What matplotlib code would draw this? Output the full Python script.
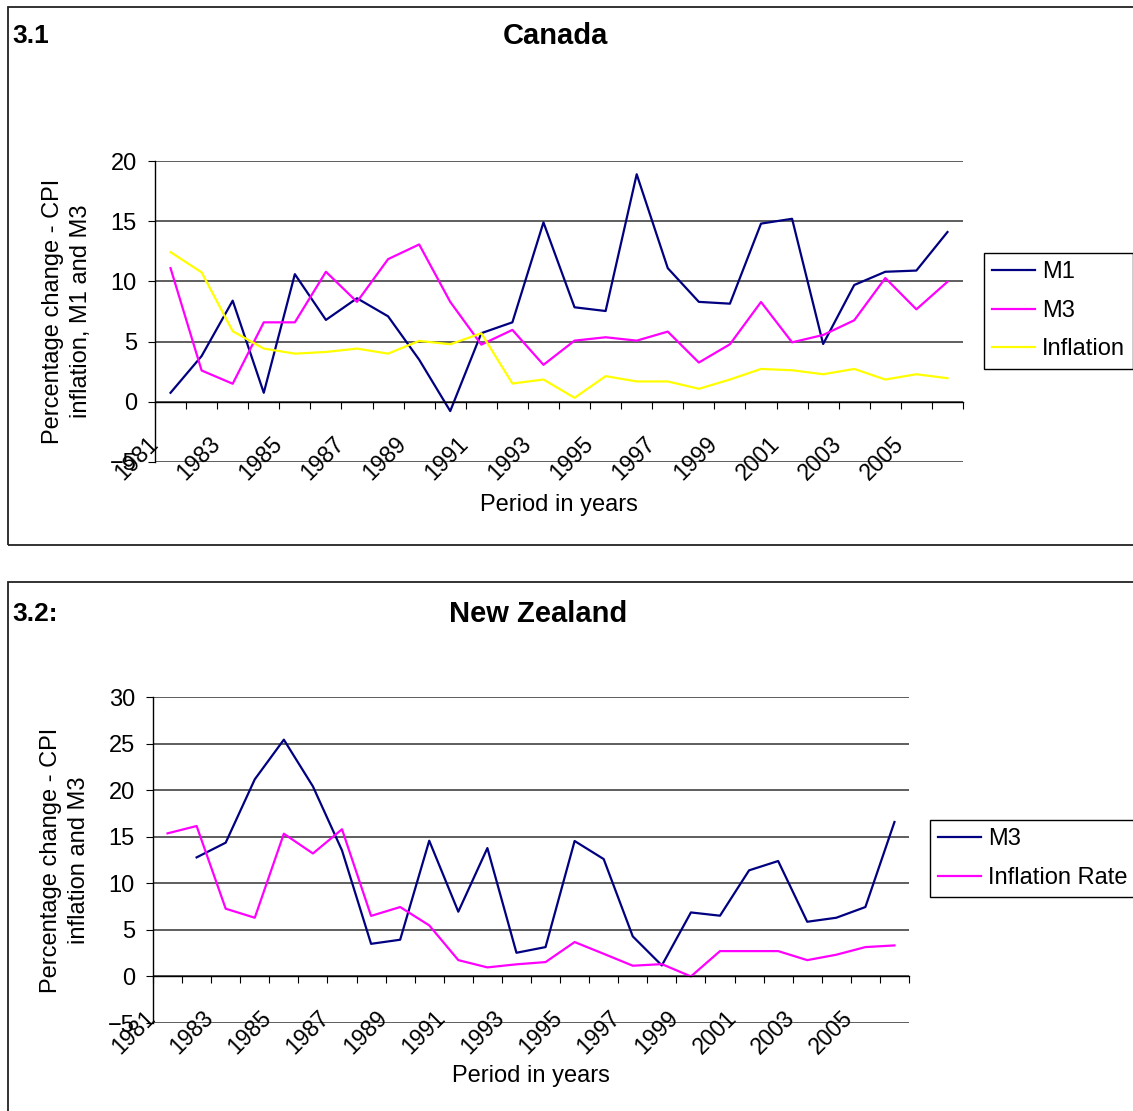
import numpy as np
import matplotlib
matplotlib.use("Agg")
import matplotlib.pyplot as plt
from matplotlib.patches import Rectangle
from matplotlib.transforms import ScaledTranslation

plt.rcParams["font.family"] = ["Liberation Sans", "DejaVu Sans"]

# %%
# data
years = list(range(1981, 2007))

# 3.1 Canada
ca_m1 = [0.75, 3.8, 8.4, 0.75, 10.6, 6.8, 8.6, 7.1, 3.5, -0.77, 5.7, 6.6, 14.9,
         7.85, 7.54, 18.9, 11.1, 8.3, 8.15, 14.8, 15.2, 4.8, 9.7, 10.8, 10.9, 14.1]
ca_m3 = [11.1, 2.6, 1.5, 6.6, 6.6, 10.8, 8.3, 11.85, 13.07, 8.3, 4.75, 5.97, 3.07,
         5.08, 5.36, 5.08, 5.83, 3.26, 4.78, 8.29, 4.94, 5.55, 6.77, 10.28, 7.68, 9.97]
ca_infl = [12.43, 10.75, 5.86, 4.42, 4.0, 4.14, 4.42, 4.0, 5.06, 4.78, 5.69, 1.52, 1.85,
           0.33, 2.13, 1.69, 1.69, 1.08, 1.85, 2.73, 2.62, 2.29, 2.73, 1.85, 2.29, 1.96]

# 3.2 New Zealand (no M3 figure for 1981)
nz_m3 = [np.nan, 12.78, 14.36, 21.16, 25.42, 20.4, 13.53, 3.5, 3.94, 14.57, 6.95, 13.78,
         2.54, 3.15, 14.54, 12.6, 4.3, 1.18, 6.87, 6.52, 11.39, 12.39, 5.87, 6.3, 7.45, 16.58]
nz_infl = [15.36, 16.15, 7.27, 6.3, 15.32, 13.2, 15.8, 6.5, 7.45, 5.48, 1.75, 0.97, 1.3,
           1.54, 3.69, 2.43, 1.15, 1.32, 0.0, 2.72, 2.72, 2.72, 1.75, 2.33, 3.15, 3.33]

# %%
W, H = 1133, 1111
fig = plt.figure(figsize=(W / 100, H / 100), dpi=100)
FS = 17


def px_axes(left, top, right, bottom):
    return fig.add_axes([left / W, 1 - bottom / H, (right - left) / W, (bottom - top) / H])


def panel_box(left, top, right, bottom):
    fig.add_artist(Rectangle((left / W, 1 - bottom / H), (right - left) / W, (bottom - top) / H,
                             transform=fig.transFigure, fill=False, lw=1.3, ec="#222222"))


def draw_chart(ax, series, ylim, ylabel, xlabel_y, legend_xy):
    x = np.arange(len(years))
    for vals, color, label in series:
        ax.plot(x, vals, color=color, lw=1.6, label=label)
    ax.set_xlim(-0.5, len(years) - 0.5)
    ax.set_ylim(*ylim)
    ax.set_yticks(np.arange(ylim[0], ylim[1] + 1, 5))
    ax.set_xticks(np.arange(-0.5, len(years)))
    ax.grid(axis="y", color="#333333", lw=1.1)
    ax.set_axisbelow(True)
    for s in ["top", "right"]:
        ax.spines[s].set_visible(False)
    ax.spines["bottom"].set_position(("data", 0))
    ax.spines["left"].set_linewidth(1.0)
    ax.spines["bottom"].set_linewidth(1.0)
    ax.tick_params(axis="x", direction="out", length=5, labelbottom=False)
    ax.tick_params(axis="y", direction="out", length=5, labelsize=FS, pad=8)

    # rotated year labels under the zero line, every other year
    off = ax.transData + ScaledTranslation(-8 / 100, -30 / 100, fig.dpi_scale_trans)
    for i, yr in enumerate(years):
        if i % 2 == 0:
            ax.text(i, 0, str(yr), transform=off, rotation=45, ha="right", va="top", fontsize=16.5)

    ax.set_ylabel(ylabel, fontsize=FS, linespacing=1.35, labelpad=13)
    ax.set_xlabel("Period in years", fontsize=FS)
    ax.xaxis.set_label_coords(0.5, xlabel_y)

    leg = ax.legend(loc="upper left", bbox_to_anchor=legend_xy, bbox_transform=fig.transFigure,
                    fancybox=False, edgecolor="black", framealpha=1, fontsize=FS,
                    handlelength=1.8, handletextpad=0.3, labelspacing=0.7,
                    borderpad=0.35, borderaxespad=0)
    leg.get_frame().set_linewidth(1.0)


# %%
# 3.1 Canada
panel_box(8, 7, 1145, 545)
fig.text(12 / W, 1 - 36 / H, "3.1", fontsize=19, fontweight="bold", va="center")
fig.text(555 / W, 1 - 36 / H, "Canada", fontsize=21, fontweight="bold", ha="center", va="center")
ax1 = px_axes(155, 161, 963, 462)
draw_chart(ax1,
           [(ca_m1, "#000080", "M1"), (ca_m3, "#FF00FF", "M3"), (ca_infl, "#FFFF00", "Inflation")],
           (-5, 20), "Percentage change - CPI\ninflation, M1 and M3", -0.105,
           (984 / W, 1 - 253 / H))

# 3.2 New Zealand
panel_box(8, 582, 1145, 1125)
fig.text(12 / W, 1 - 614 / H, "3.2:", fontsize=19, fontweight="bold", va="center")
fig.text(538 / W, 1 - 614 / H, "New Zealand", fontsize=21, fontweight="bold", ha="center", va="center")
ax2 = px_axes(153, 697, 909, 1023)
draw_chart(ax2,
           [(nz_m3, "#000080", "M3"), (nz_infl, "#FF00FF", "Inflation Rate")],
           (-5, 30), "Percentage change - CPI\ninflation and M3", -0.128,
           (930 / W, 1 - 820 / H))

fig.savefig("out.png", dpi=100)
